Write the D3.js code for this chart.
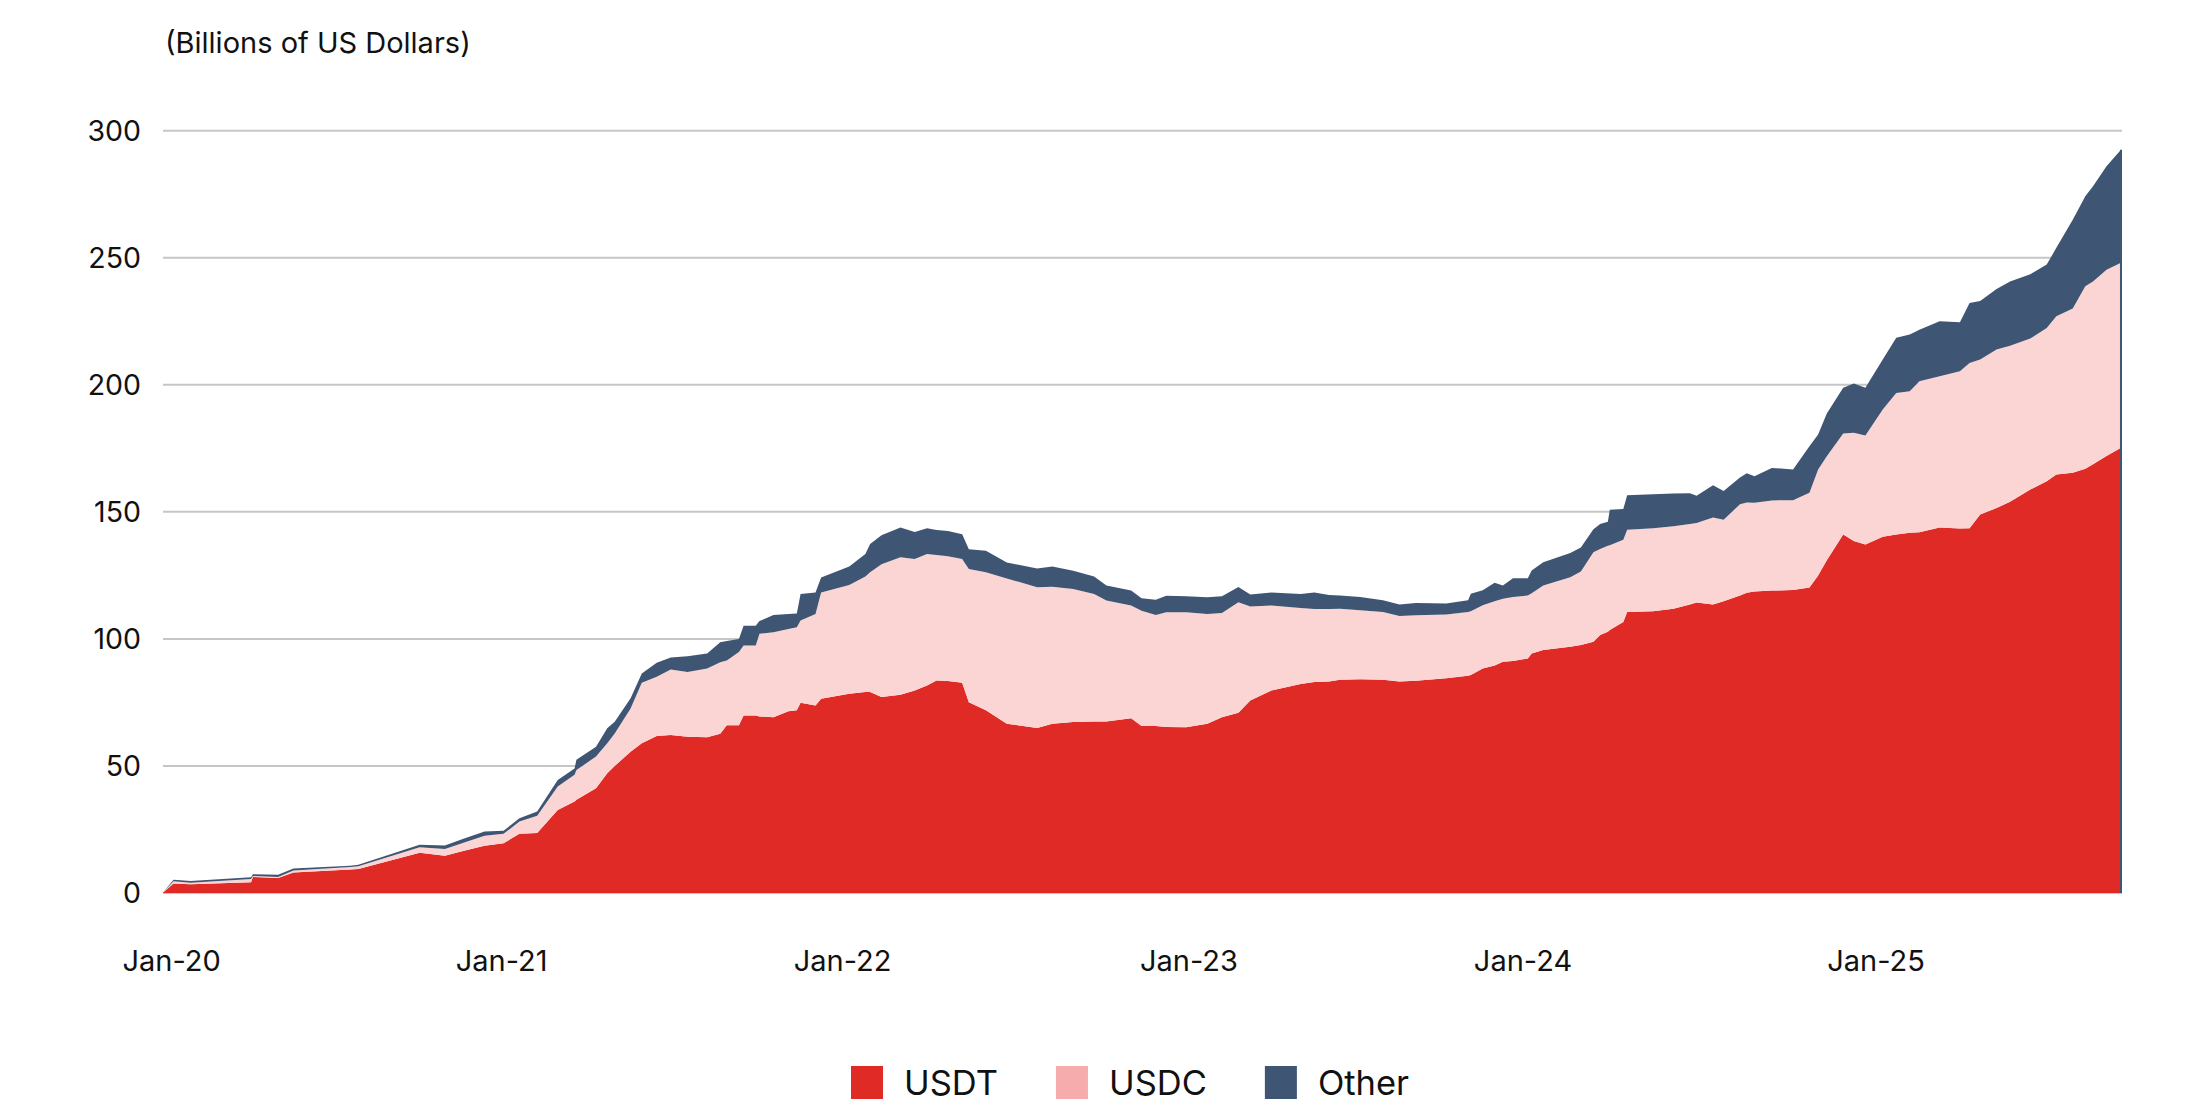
<!DOCTYPE html>
<html>
<head>
<meta charset="utf-8">
<script src="https://cdn.jsdelivr.net/npm/d3@7/dist/d3.min.js"></script>
<style>
  html, body { margin: 0; padding: 0; background: #ffffff; }
  svg { display: block; }
  text { font-family: Inter, "Noto Sans", sans-serif; fill: #111111; }
</style>
</head>
<body>
<svg id="chart" width="2196" height="1115"></svg>
<script>
// ---------- DATA ----------
const dates = [
"2019-12-22","2020-01-03","2020-01-22","2020-03-29","2020-03-31","2020-04-28","2020-05-15","2020-07-17","2020-07-26","2020-10-02",
"2020-10-30","2020-11-18","2020-12-13","2021-01-03","2021-01-20","2021-02-08","2021-03-02","2021-03-20","2021-03-22","2021-04-12",
"2021-04-24","2021-05-02","2021-05-19","2021-05-31","2021-06-16","2021-07-01","2021-07-19","2021-08-09","2021-08-23","2021-08-30",
"2021-09-12","2021-09-17","2021-09-30","2021-10-04","2021-10-19","2021-11-04","2021-11-13","2021-11-17","2021-12-03","2021-12-09",
"2022-01-08","2022-01-25","2022-01-30","2022-02-11","2022-03-03","2022-03-18","2022-03-31","2022-04-10","2022-04-22","2022-05-07",
"2022-05-14","2022-06-01","2022-06-23","2022-07-25","2022-08-10","2022-09-01","2022-09-23","2022-10-06","2022-11-01","2022-11-12",
"2022-11-27","2022-12-08","2022-12-29","2023-01-21","2023-02-06","2023-02-24","2023-03-09","2023-04-01","2023-05-03","2023-05-18",
"2023-06-03","2023-06-15","2023-07-07","2023-08-01","2023-08-19","2023-09-06","2023-10-09","2023-11-02","2023-11-05","2023-11-18",
"2023-12-01","2023-12-10","2023-12-21","2024-01-06","2024-01-10","2024-01-22","2024-02-19","2024-03-01","2024-03-14","2024-03-21",
"2024-03-29","2024-03-31","2024-04-14","2024-04-18","2024-05-15","2024-06-05","2024-06-22","2024-06-29","2024-07-16","2024-07-27",
"2024-08-13","2024-08-20","2024-08-28","2024-09-15","2024-10-07","2024-10-24","2024-11-02","2024-11-11","2024-11-28","2024-12-09",
"2024-12-21","2025-01-08","2025-01-22","2025-02-05","2025-02-15","2025-03-08","2025-03-29","2025-04-08","2025-04-19","2025-05-06",
"2025-05-20","2025-06-10","2025-06-27","2025-07-07","2025-07-24","2025-08-06","2025-08-14","2025-08-28","2025-09-12"
];
const usdt = [
0,3.7,3.4,4.2,6.3,5.9,8.1,9.2,9.4,15.8,
14.7,16.4,18.6,19.6,23.3,23.6,32.7,36.0,36.7,41.2,
47.1,50.0,55.6,58.9,61.8,62.2,61.5,61.3,62.7,66.0,
66.0,69.9,69.9,69.5,69.2,71.5,71.9,74.9,73.8,76.4,
78.4,79.1,79.1,77.1,78.0,79.7,81.7,83.6,83.4,82.7,
75.1,71.9,66.6,64.9,66.6,67.3,67.5,67.5,68.8,65.7,
65.7,65.3,65.2,66.6,69.2,70.9,75.8,79.7,82.3,83.0,
83.2,83.9,84.1,83.9,83.2,83.5,84.5,85.5,85.8,88.4,
89.5,91.0,91.3,92.3,94.3,95.6,96.9,97.6,98.9,101.5,
102.8,103.5,106.7,110.6,110.9,111.9,113.5,114.3,113.5,114.8,
117.1,118.2,118.7,119.0,119.2,120.2,125.0,131.0,141.1,138.5,
137.2,140.2,141.1,141.8,142.0,143.8,143.4,143.5,149.0,151.5,
154.0,158.8,162.0,164.7,165.4,167.0,168.7,172.0,175.2
];
const usdc = [
0,0.9,0.6,1.3,0.4,0.4,0.8,1.0,1.1,2.2,
2.6,3.2,3.9,3.7,4.8,6.8,9.2,10.5,11.7,12.5,
11.8,12.8,17.0,23.8,23.3,25.8,25.5,27.1,28.1,25.5,
28.8,27.5,27.5,32.5,33.4,32.4,32.7,32.3,36.0,41.9,
42.8,45.5,47.1,52.3,54.1,51.7,51.7,49.4,49.1,48.7,
52.4,54.3,57.2,55.4,53.9,52.3,50.2,47.6,44.3,45.4,
43.7,45.2,45.3,43.2,41.0,43.5,37.0,33.4,29.9,28.8,
28.6,28.0,27.2,26.7,25.8,25.8,25.1,25.1,25.1,24.8,
25.3,24.8,25.2,24.8,23.7,25.4,27.4,28.9,35.2,33.9,
33.9,33.4,32.3,32.4,32.6,32.4,31.7,31.3,34.3,32.1,
35.9,35.5,34.9,35.5,35.4,37.3,41.7,40.9,39.7,42.6,
42.8,50.1,55.7,55.7,59.4,59.6,61.9,65.1,61.0,62.4,
61.4,59.4,60.4,62.3,64.6,71.8,72.0,73.3,72.8
];
const other = [
0,0.6,0.7,0.7,0.7,0.9,0.7,0.5,0.6,1.0,
1.4,1.6,1.7,1.2,1.3,1.7,2.6,2.5,4.0,3.9,
5.9,4.6,4.0,3.7,5.5,4.7,6.2,5.9,7.9,7.7,
5.2,7.8,7.8,5.0,6.8,5.9,5.4,10.5,8.5,5.9,
7.3,8.8,11.1,11.4,11.7,10.7,10.1,9.9,10.0,9.8,
7.8,8.5,6.3,7.4,8.0,7.2,6.9,5.9,5.9,4.9,
6.0,6.5,6.3,6.6,6.6,6.0,4.7,5.2,5.5,6.5,
5.5,5.2,5.2,4.6,4.5,4.8,4.3,4.6,6.9,5.9,
7.3,5.2,7.4,6.8,8.9,9.2,9.5,9.5,9.1,9.8,
9.4,13.9,12.1,13.5,13.4,12.9,12.1,10.7,12.7,11.3,
10.5,11.5,10.4,12.8,12.1,18.3,13.7,16.8,18.0,19.4,
18.8,19.7,21.7,22.3,20.3,21.6,19.3,23.6,23.0,23.8,
25.3,25.3,24.9,26.9,35.0,35.4,37.4,40.7,44.5
];
const seriesNames = ["USDT", "USDC", "Other"];
const yTicks = [0, 50, 100, 150, 200, 250, 300];
const xTickDates = ["2020-01-01","2021-01-01","2022-01-01","2023-01-01","2024-01-01","2025-01-01"];
const titleText = "(Billions of US Dollars)";

// ---------- LAYOUT / STYLE ----------
const areaColors = { USDT: "#DF2A26", USDC: "#FBD5D4", Other: "#3E5573" };
const legendColors = { USDT: "#DF2A26", USDC: "#F6ABAD", Other: "#3E5573" };
const plotLeft = 163, plotRight = 2122;
const yBottom = 893, yTop = 130.7;
// horizontal positions of the year labels (axis is not evenly spaced in the source)
const xTickPos = [171.7, 501.7, 842.6, 1189, 1523, 1876];

const parse = d3.timeParse("%Y-%m-%d");
const rows = dates.map((d, i) => ({ date: parse(d), USDT: usdt[i], USDC: usdc[i], Other: other[i] }));

const svg = d3.select("#chart");

const x = d3.scaleTime().domain(xTickDates.map(parse)).range(xTickPos);
const y = d3.scaleLinear().domain([0, 300]).range([yBottom, yTop]);

// gridlines
svg.append("g").selectAll("line").data(yTicks).join("line")
  .attr("x1", plotLeft).attr("x2", plotRight)
  .attr("y1", d => y(d)).attr("y2", d => y(d))
  .attr("stroke", "#C6C6C6").attr("stroke-width", 2);

// y tick labels
svg.append("g").selectAll("text").data(yTicks).join("text")
  .attr("x", 141).attr("y", d => y(d)).attr("dy", "0.36em")
  .attr("text-anchor", "end").attr("font-size", 28.5)
  .text(d => d);

// stacked areas
const stack = d3.stack().keys(seriesNames);
const layers = stack(rows);
const area = d3.area()
  .x(d => x(d.data.date))
  .y0(d => y(d[0]))
  .y1(d => y(d[1]))
  .curve(d3.curveLinear);

svg.append("g").selectAll("path").data(layers).join("path")
  .attr("d", area)
  .attr("fill", d => areaColors[d.key]);

// right edge line
const last = rows[rows.length - 1];
svg.append("line")
  .attr("x1", x(last.date)).attr("x2", x(last.date))
  .attr("y1", y(0)).attr("y2", y(last.USDT + last.USDC + last.Other))
  .attr("stroke", "#3E5573").attr("stroke-width", 2);

// x axis labels
const fmt = d3.timeFormat("%b-%y");
svg.append("g").selectAll("text").data(xTickDates.map(parse)).join("text")
  .attr("x", d => x(d)).attr("y", 971)
  .attr("text-anchor", "middle").attr("font-size", 29)
  .text(d => fmt(d));

// title
svg.append("text").attr("x", 165).attr("y", 53).attr("font-size", 29).text(titleText);

// legend
const legend = svg.append("g");
let lx = 851;
seriesNames.forEach(name => {
  legend.append("rect").attr("x", lx).attr("y", 1066).attr("width", 32).attr("height", 33)
    .attr("fill", legendColors[name]);
  const t = legend.append("text").attr("x", lx + 53).attr("y", 1095)
    .attr("font-size", 34.5).text(name);
  const w = t.node().getComputedTextLength();
  lx = lx + 53 + w + 58;
});
</script>
</body>
</html>
